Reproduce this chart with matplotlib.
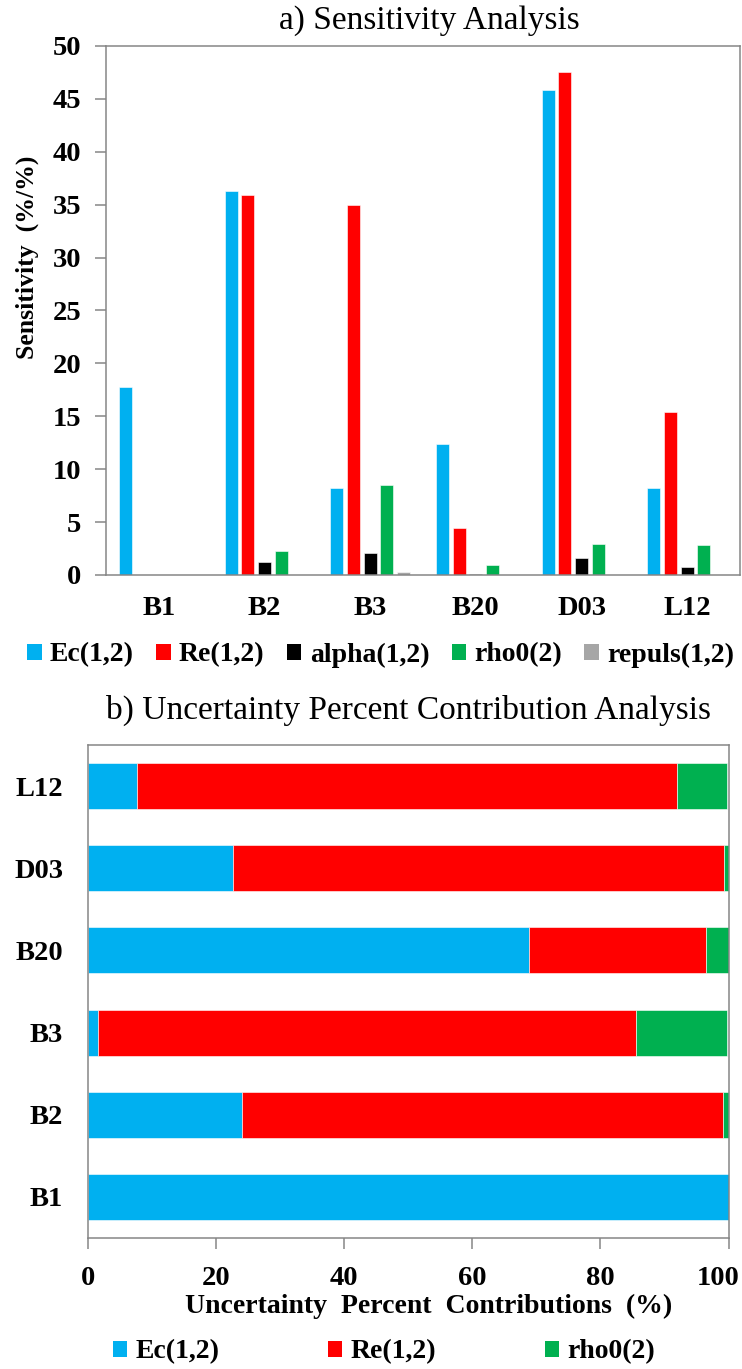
import matplotlib
matplotlib.use('Agg')
import matplotlib.pyplot as plt
import matplotlib.transforms as mtransforms
from matplotlib.patches import Patch
import numpy as np

plt.rcParams['font.family'] = ['Liberation Serif', 'DejaVu Serif']

# Data
systems = ['B1', 'B2', 'B3', 'B20', 'D03', 'L12']
sens_params = ['Ec(1,2)', 'Re(1,2)', 'alpha(1,2)', 'rho0(2)', 'repuls(1,2)']
sens_ec = [17.8, 36.3, 8.2, 12.4, 45.8, 8.2]
sens_re = [0.0, 35.9, 35.0, 4.4, 47.5, 15.4]
sens_alpha = [0.0, 1.25, 2.05, 0.12, 1.6, 0.8]
sens_rho0 = [0.0, 2.25, 8.55, 0.9, 2.9, 2.8]
sens_repuls = [0.0, 0.0, 0.25, 0.0, 0.0, 0.0]

unc_params = ['Ec(1,2)', 'Re(1,2)', 'rho0(2)']
unc_ec = [100.0, 24.1, 1.5, 68.8, 22.6, 7.7]
unc_re = [0.0, 75.0, 84.1, 27.7, 76.7, 84.2]
unc_rho0 = [0.0, 0.9, 14.2, 3.5, 0.7, 7.8]

colors = ['#00B0F0', '#FF0000', '#000000', '#00B050', '#A6A6A6']
spine_col = '#868686'
tick_fs = 20.5

fig = plt.figure(figsize=(7.42, 13.69), dpi=100)

# a) Sensitivity Analysis
ax1 = fig.add_axes([0.1429, 0.58, 0.8544, 0.3864])
x = np.arange(len(systems))
slot = 0.158
bw = 0.122
sens_series = [sens_ec, sens_re, sens_alpha, sens_rho0, sens_repuls]
for i, (vals, c) in enumerate(zip(sens_series, colors)):
    ax1.bar(x + (i - 2) * slot, vals, width=bw, color=c, edgecolor='white', linewidth=0.4)
ax1.set_xlim(-0.5, len(systems) - 0.5)
ax1.set_ylim(0, 50)
ax1.set_yticks(range(0, 51, 5))
ax1.set_xticks(x)
ax1.set_xticklabels(systems, fontsize=tick_fs, fontweight='bold')
for lab in ax1.get_yticklabels():
    lab.set_fontsize(tick_fs)
    lab.set_fontweight('bold')
ax1.tick_params(axis='x', length=0, pad=15)
ax1.tick_params(axis='y', length=8, width=1.1, color=spine_col, pad=10)
for s in ax1.spines.values():
    s.set_color(spine_col)
    s.set_linewidth(1.1)
ax1.set_ylabel('Sensitivity  (%/%)', fontsize=18.5, fontweight='bold')
ax1.yaxis.set_label_coords(-0.105, 0.6)

fig.text(0.578, 1 - 21 / 1369, 'a) Sensitivity Analysis', fontsize=24,
         ha='center', va='center')

handles1 = [Patch(facecolor=c, edgecolor='none') for c in colors]
fig.legend(handles1, sens_params, loc='center', bbox_to_anchor=(0.513, 1 - 655 / 1369),
           ncol=5, frameon=False, prop={'size': 20, 'weight': 'bold'},
           handlelength=0.52, handleheight=0.52, handletextpad=0.3,
           columnspacing=0.8, borderaxespad=0)

# b) Uncertainty Percent Contribution Analysis
ax2 = fig.add_axes([0.1186, 0.0957, 0.8633, 0.3601])
y = np.arange(len(systems))
bh = 0.56
left = np.zeros(len(systems))
for vals, c in zip([unc_ec, unc_re, unc_rho0], [colors[0], colors[1], colors[3]]):
    ax2.barh(y, vals, height=bh, left=left, color=c, edgecolor='white', linewidth=0.4)
    left = left + np.array(vals)
ax2.set_xlim(0, 100)
ax2.set_ylim(-0.5, len(systems) - 0.5)
ax2.set_xticks(range(0, 101, 20))
ax2.set_yticks(y)
ax2.set_yticklabels(systems, fontsize=tick_fs, fontweight='bold')
for lab in ax2.get_xticklabels():
    lab.set_fontsize(tick_fs)
    lab.set_fontweight('bold')
ax2.tick_params(axis='y', length=0, pad=18)
ax2.tick_params(axis='x', length=8, width=1.1, color=spine_col, pad=12)
# nudge the last tick label so it stays inside the figure
last = ax2.get_xticklabels()[-1]
last.set_transform(last.get_transform() + mtransforms.ScaledTranslation(-0.1, 0, fig.dpi_scale_trans))
for s in ax2.spines.values():
    s.set_color(spine_col)
    s.set_linewidth(1.1)
ax2.set_xlabel('Uncertainty  Percent  Contributions  (%)', fontsize=20, fontweight='bold')
ax2.xaxis.set_label_coords(0.532, -0.113)

fig.text(0.551, 1 - 710 / 1369, 'b) Uncertainty Percent Contribution Analysis', fontsize=24,
         ha='center', va='center')

handles2 = [Patch(facecolor=c, edgecolor='none') for c in [colors[0], colors[1], colors[3]]]
fig.legend(handles2, unc_params, loc='center', bbox_to_anchor=(0.5175, 1 - 1352 / 1369),
           ncol=3, frameon=False, prop={'size': 20, 'weight': 'bold'},
           handlelength=0.52, handleheight=0.52, handletextpad=0.3,
           columnspacing=3.9, borderaxespad=0)

fig.savefig('out.png', dpi=100)
